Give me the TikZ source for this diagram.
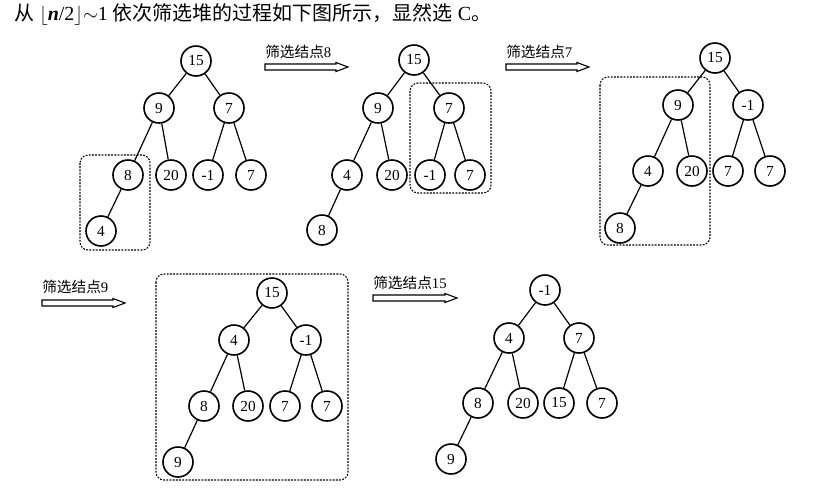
\documentclass[tikz,border=0pt]{standalone}
\usepackage{amssymb, mathtools, amsmath}
\usepackage{fontspec}
\setmainfont{Liberation Serif}
\newfontfamily\cjk{Noto Sans CJK SC}

\begin{document}
\begin{tikzpicture}[x=0.75pt,y=0.75pt,yscale=-1,xscale=1,
  hnode/.style={draw, circle, line width=1.2pt, minimum size=22.5pt, inner sep=0pt, font=\fontsize{11.5}{12}\selectfont},
  hedge/.style={line width=0.9pt},
  hbox/.style={line width=0.8pt, dash pattern=on 1.4pt off 1pt, rounded corners=6pt},
  hlabel/.style={anchor=south west, inner sep=0pt, font=\fontsize{11}{12}\selectfont},
  harrow/.style={draw, line width=0.8pt}]
\useasboundingbox (0,0) rectangle (836,497);

% Text Node
\node [anchor=west, inner sep=0pt, font=\fontsize{15}{18}\selectfont] (title) at (14,14) {{\cjk 从} $\lfloor$\textit{\textbf{n}}/2$\rfloor{\sim}$1 {\cjk 依次筛选堆的过程如下图所示，显然选} C{\cjk 。}};

%Shape: Circle (initial heap)
\node [hnode] (a1) at (196,61) {15};
\node [hnode] (a2) at (159,108) {9};
\node [hnode] (a3) at (229,108) {7};
\node [hnode] (a4) at (128,175) {8};
\node [hnode] (a5) at (171,175) {20};
\node [hnode] (a6) at (208,175) {-1};
\node [hnode] (a7) at (251,175) {7};
\node [hnode] (a8) at (101,231) {4};
%Straight Lines
\draw [hedge] (a1) -- (a2) (a1) -- (a3) (a2) -- (a4) (a2) -- (a5) (a3) -- (a6) (a3) -- (a7) (a4) -- (a8);
%Shape: Rectangle
\draw [hbox] (80,155) rectangle (150,250);

% Text Node
\node [hlabel] (s8) at (265,59) {{\cjk 筛选结点}8};
\draw [harrow] (s8.south west) ++(0,5) -- ++(71,0) -- ++(0,-1.5) -- ++(12,4.5) -- ++(-12,4.5) -- ++(0,-1.5) -- ++(-71,0) -- cycle;

%Shape: Circle (after node 8)
\node [hnode] (b1) at (414,60) {15};
\node [hnode] (b2) at (378,108) {9};
\node [hnode] (b3) at (449,108) {7};
\node [hnode] (b4) at (347,175) {4};
\node [hnode] (b5) at (392,175) {20};
\node [hnode] (b6) at (430,175) {-1};
\node [hnode] (b7) at (470,175) {7};
\node [hnode] (b8) at (322,230) {8};
%Straight Lines
\draw [hedge] (b1) -- (b2) (b1) -- (b3) (b2) -- (b4) (b2) -- (b5) (b3) -- (b6) (b3) -- (b7) (b4) -- (b8);
%Shape: Rectangle
\draw [hbox] (410,83) rectangle (491,193);

% Text Node
\node [hlabel] (s7) at (506,59) {{\cjk 筛选结点}7};
\draw [harrow] (s7.south west) ++(0,5) -- ++(71,0) -- ++(0,-1.5) -- ++(12,4.5) -- ++(-12,4.5) -- ++(0,-1.5) -- ++(-71,0) -- cycle;

%Shape: Circle (after node 7)
\node [hnode] (c1) at (715,58) {15};
\node [hnode] (c2) at (678,105) {9};
\node [hnode] (c3) at (748,105) {-1};
\node [hnode] (c4) at (648,171) {4};
\node [hnode] (c5) at (692,171) {20};
\node [hnode] (c6) at (728,171) {7};
\node [hnode] (c7) at (770,171) {7};
\node [hnode] (c8) at (620,228) {8};
%Straight Lines
\draw [hedge] (c1) -- (c2) (c1) -- (c3) (c2) -- (c4) (c2) -- (c5) (c3) -- (c6) (c3) -- (c7) (c4) -- (c8);
%Shape: Rectangle
\draw [hbox] (600,77) rectangle (710,245);

% Text Node
\node [hlabel] (s9) at (42,294) {{\cjk 筛选结点}9};
\draw [harrow] (s9.south west) ++(0,6) -- ++(71,0) -- ++(0,-1.5) -- ++(12,4.5) -- ++(-12,4.5) -- ++(0,-1.5) -- ++(-71,0) -- cycle;

%Shape: Circle (after node 9)
\node [hnode] (d1) at (272,293) {15};
\node [hnode] (d2) at (234,340) {4};
\node [hnode] (d3) at (306,340) {-1};
\node [hnode] (d4) at (204,406) {8};
\node [hnode] (d5) at (248,406) {20};
\node [hnode] (d6) at (285,406) {7};
\node [hnode] (d7) at (327,406) {7};
\node [hnode] (d8) at (178,462) {9};
%Straight Lines
\draw [hedge] (d1) -- (d2) (d1) -- (d3) (d2) -- (d4) (d2) -- (d5) (d3) -- (d6) (d3) -- (d7) (d4) -- (d8);
%Shape: Rectangle
\draw [hbox] (156,274) rectangle (348,480);

% Text Node
\node [hlabel] (s15) at (373,290) {{\cjk 筛选结点}15};
\draw [harrow] (s15.south west) ++(0,5) -- ++(72,0) -- ++(0,-1.5) -- ++(12,4.5) -- ++(-12,4.5) -- ++(0,-1.5) -- ++(-72,0) -- cycle;

%Shape: Circle (after node 15)
\node [hnode] (e1) at (545,290) {-1};
\node [hnode] (e2) at (509,338) {4};
\node [hnode] (e3) at (579,338) {7};
\node [hnode] (e4) at (478,403) {8};
\node [hnode] (e5) at (523,403) {20};
\node [hnode] (e6) at (559,403) {15};
\node [hnode] (e7) at (602,403) {7};
\node [hnode] (e8) at (451,459) {9};
%Straight Lines
\draw [hedge] (e1) -- (e2) (e1) -- (e3) (e2) -- (e4) (e2) -- (e5) (e3) -- (e6) (e3) -- (e7) (e4) -- (e8);

\end{tikzpicture}
\end{document}
